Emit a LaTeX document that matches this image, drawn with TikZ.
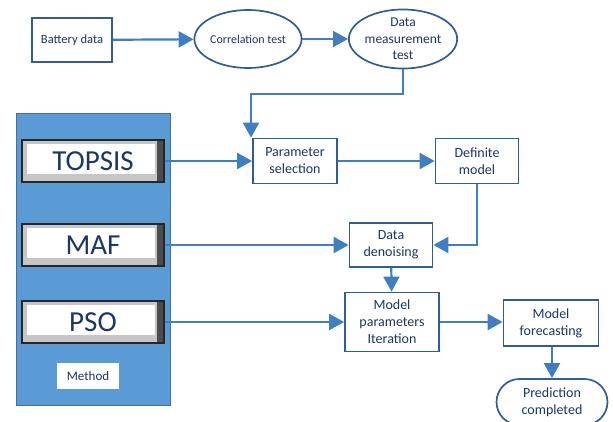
\documentclass[tikz,border=0pt]{standalone}
\usepackage{fontspec}
\setmainfont{Carlito}
\usetikzlibrary{arrows.meta,shapes.geometric,shapes.misc}

\definecolor{linecol}{HTML}{3F7FC1}
\definecolor{framecol}{HTML}{2F5D95}
\definecolor{textcol}{HTML}{1A3768}
\definecolor{panelcol}{HTML}{5B9BD5}
\definecolor{paneledge}{HTML}{41719C}

\begin{document}
\begin{tikzpicture}[x=1pt,y=-1pt]
	\tikzstyle{every node}=[text=textcol,align=center,inner sep=0pt]
	\tikzstyle{box}=[rectangle,draw=framecol,line width=1.7pt,fill=white,font=\fontsize{14}{17}\selectfont]
	\tikzstyle{oval}=[ellipse,draw=framecol,line width=1.7pt,fill=white]
	\tikzstyle{button}=[rectangle,draw=black!85,line width=1.2pt,fill=gray!45,
		minimum width=142pt,minimum height=42pt,font=\fontsize{29}{32}\selectfont,
		path picture={\fill[black!70] ([xshift=-7pt]path picture bounding box.north east)
			rectangle (path picture bounding box.south east);
			\fill[white] ([shift={(5pt,-4pt)}]path picture bounding box.north west)
			rectangle ([shift={(-9pt,8pt)}]path picture bounding box.south east);}]
	\tikzstyle{arr}=[draw=linecol,line width=2.2pt,-{Triangle[length=15pt,width=16pt]}]

	\useasboundingbox (0,0) rectangle (613,422);

	% top row
	\node[box,minimum width=80pt,minimum height=44pt,font=\fontsize{12.5}{15}\selectfont] (battery) at (72,40) {Battery data};
	\node[oval,minimum width=97pt,minimum height=58pt,font=\fontsize{12}{14}\selectfont] (corr) at (248,39) {Correlation test};
	\node[oval,minimum width=95pt,minimum height=58pt,font=\fontsize{13.5}{16.5}\selectfont] (meas) at (403,39) {Data\\measurement\\test};

	% method panel
	\node[rectangle,draw=paneledge,line width=0.8pt,fill=panelcol,minimum width=154pt,minimum height=292pt] (panel) at (93,259) {};
	\node[button] (topsis) at (93,161) {TOPSIS};
	\node[button] (maf) at (93,245) {MAF};
	\node[button] (pso) at (93,322) {PSO};
	\node[rectangle,fill=white,minimum width=62pt,minimum height=26pt,font=\fontsize{13}{15}\selectfont] (method) at (88,376) {Method};

	% right part
	\node[box,minimum width=84pt,minimum height=45pt] (param) at (295,161) {Parameter\\selection};
	\node[box,minimum width=83pt,minimum height=45pt] (definite) at (477,161) {Definite\\model};
	\node[box,minimum width=83pt,minimum height=44pt] (denoise) at (391,245) {Data\\denoising};
	\node[box,minimum width=94pt,minimum height=59pt] (iter) at (392,322) {Model\\parameters\\Iteration};
	\node[box,minimum width=95pt,minimum height=46pt] (forecast) at (551,323) {Model\\forecasting};
	\node[rounded rectangle,draw=framecol,line width=1.7pt,fill=white,minimum width=111pt,minimum height=46pt,
		font=\fontsize{14}{17}\selectfont] (predict) at (552,402) {Prediction\\completed};

	% connectors
	\draw[arr] (battery) -- (corr);
	\draw[arr] (corr) -- (meas);
	\draw[arr] (meas.south) |- (251,94) -| (param.north -| 251,0);
	\draw[arr] (topsis.east) -- (param.west);
	\draw[arr] (param) -- (definite);
	\draw[arr] (definite.south) |- (denoise.east);
	\draw[arr] (maf.east) -- (denoise.west);
	\draw[arr] (denoise) -- (iter);
	\draw[arr] (pso.east) -- (iter.west);
	\draw[arr] (iter.east) -- (forecast.west |- iter.east);
	\draw[arr] (forecast.south -| predict.north) -- (predict.north);
\end{tikzpicture}
\end{document}
